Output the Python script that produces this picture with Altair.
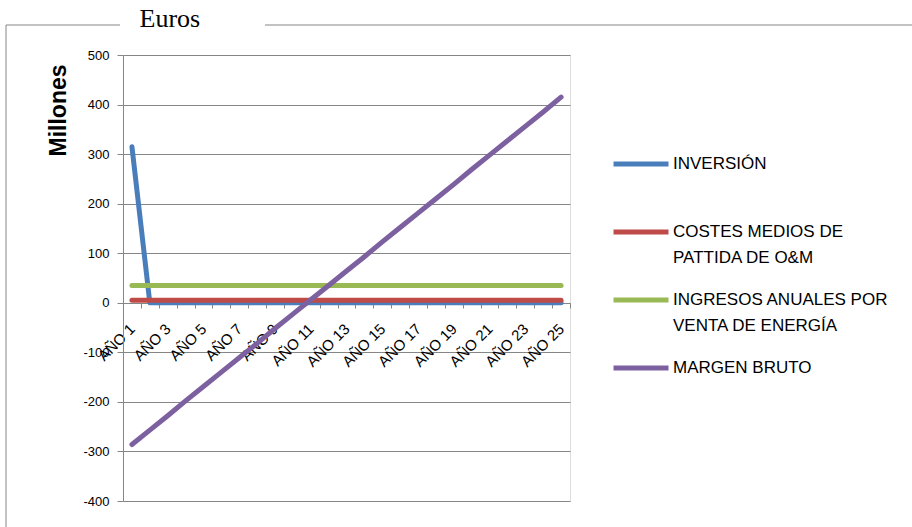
import altair as alt
import pandas as pd

years = [f"AÑO {i}" for i in range(1, 26)]
series_names = [
    "INVERSIÓN",
    "COSTES MEDIOS DE|PATTIDA DE O&M",
    "INGRESOS ANUALES POR|VENTA DE ENERGÍA",
    "MARGEN BRUTO",
]
colors = ["#4A7EBB", "#BE4B48", "#98B954", "#7D60A0"]

inversion = [315, 0, 0, 0, 0, 0, 0, 0, 0, 0, 0, 0, 0, 0, 0, 0, 0, 0, 0, 0, 0, 0, 0, 0, 0]
costes = [5, 5, 5, 5, 5, 5, 5, 5, 5, 5, 5, 5, 5, 5, 5, 5, 5, 5, 5, 5, 5, 5, 5, 5, 5]
ingresos = [35, 35, 35, 35, 35, 35, 35, 35, 35, 35, 35, 35, 35, 35, 35, 35, 35, 35, 35, 35, 35, 35, 35, 35, 35]
margen = [-286, -257, -228, -198, -169, -140, -111, -82, -52, -23, 6, 35, 64,
          93, 123, 152, 181, 210, 239, 269, 298, 327, 356, 385, 415]

y_ticks = [-400, -300, -200, -100, 0, 100, 200, 300, 400, 500]
shown_years = ["AÑO 1", "AÑO 3", "AÑO 5", "AÑO 7", "AÑO 9", "AÑO 11", "AÑO 13",
               "AÑO 15", "AÑO 17", "AÑO 19", "AÑO 21", "AÑO 23", "AÑO 25"]

rows = []
for k, (name, vals) in enumerate(zip(series_names, [inversion, costes, ingresos, margen])):
    for yr, v in zip(years, vals):
        rows.append({"serie": name, "anio": yr, "valor": v, "orden": k})
df = pd.DataFrame(rows)

W, H = 447, 446
shown_js = "[" + ",".join(f"'{s}'" for s in shown_years) + "]"

legend_label_expr = (
    "[split(datum.label, '|')[0], "
    "length(split(datum.label, '|')) > 1 ? split(datum.label, '|')[1] : ' ']"
)

lines = alt.Chart(df).mark_line(strokeWidth=5, strokeCap="round", strokeJoin="round").encode(
    x=alt.X("anio:N", sort=years, bandPosition=0.5,
            scale=alt.Scale(type="band", paddingInner=0, paddingOuter=0),
            axis=alt.Axis(title=None, labelAngle=-45, labelAlign="right", labelBaseline="middle",
                          tickBand="extent", offset=-198, domainColor="#868686", tickColor="#868686",
                          tickSize=5, labelPadding=18, labelFontSize=15, labelColor="#000000",
                          labelFont="Liberation Sans", grid=False, labelOverlap=False,
                          labelExpr=f"indexof({shown_js}, datum.value) >= 0 ? datum.value : ''")),
    y=alt.Y("valor:Q", scale=alt.Scale(domain=[-400, 500], nice=False, zero=False),
            axis=alt.Axis(title="Millones", values=y_ticks, titleFontSize=23, titleFontWeight="bold",
                          titleFont="Liberation Sans", titleColor="#000000", titleX=-65, titleY=55,
                          titleAlign="center", titleBaseline="middle",
                          labelFontSize=13, labelColor="#000000", labelFont="Liberation Sans",
                          labelExpr="'' + datum.value",
                          tickSize=6, labelPadding=8, domainColor="#868686", tickColor="#868686",
                          gridColor="#868686", gridWidth=1)),
    color=alt.Color("serie:N", sort=series_names,
                    scale=alt.Scale(domain=series_names, range=colors),
                    legend=alt.Legend(title=None, orient="none", legendX=488, legendY=79,
                                      symbolType="stroke", symbolSize=3025, symbolStrokeWidth=5,
                                      labelFontSize=17, labelFont="Liberation Sans", labelColor="#000000",
                                      labelExpr=legend_label_expr, labelLimit=400,
                                      labelOffset=2, rowPadding=4, labelBaseline="middle")),
    order=alt.Order("orden:Q"),
)

frame_top_left = alt.Chart().mark_rule(color="#868686", strokeWidth=1).encode(
    x=alt.value(-117), x2=alt.value(-3), y=alt.value(-30))
frame_top_right = alt.Chart().mark_rule(color="#868686", strokeWidth=1).encode(
    x=alt.value(142), x2=alt.value(800), y=alt.value(-30))
frame_left = alt.Chart().mark_rule(color="#868686", strokeWidth=1).encode(
    x=alt.value(-117), y=alt.value(-30), y2=alt.value(480))

chart = alt.layer(frame_top_left, frame_top_right, frame_left, lines).properties(
    width=W, height=H,
    title=alt.Title("Euros", font="Liberation Serif", fontSize=26, fontWeight="normal",
                    color="#000000", anchor="start", dx=134, dy=11),
    autosize=alt.AutoSizeParams(type="none"),
    padding={"left": 123, "top": 55, "right": 342, "bottom": 26},
).configure_view(stroke=None).configure(
    background="white",
    style={"guide-label": {"lineHeight": 26}},
)

chart.save("out.html", embed_options={"renderer": "svg", "actions": False})
